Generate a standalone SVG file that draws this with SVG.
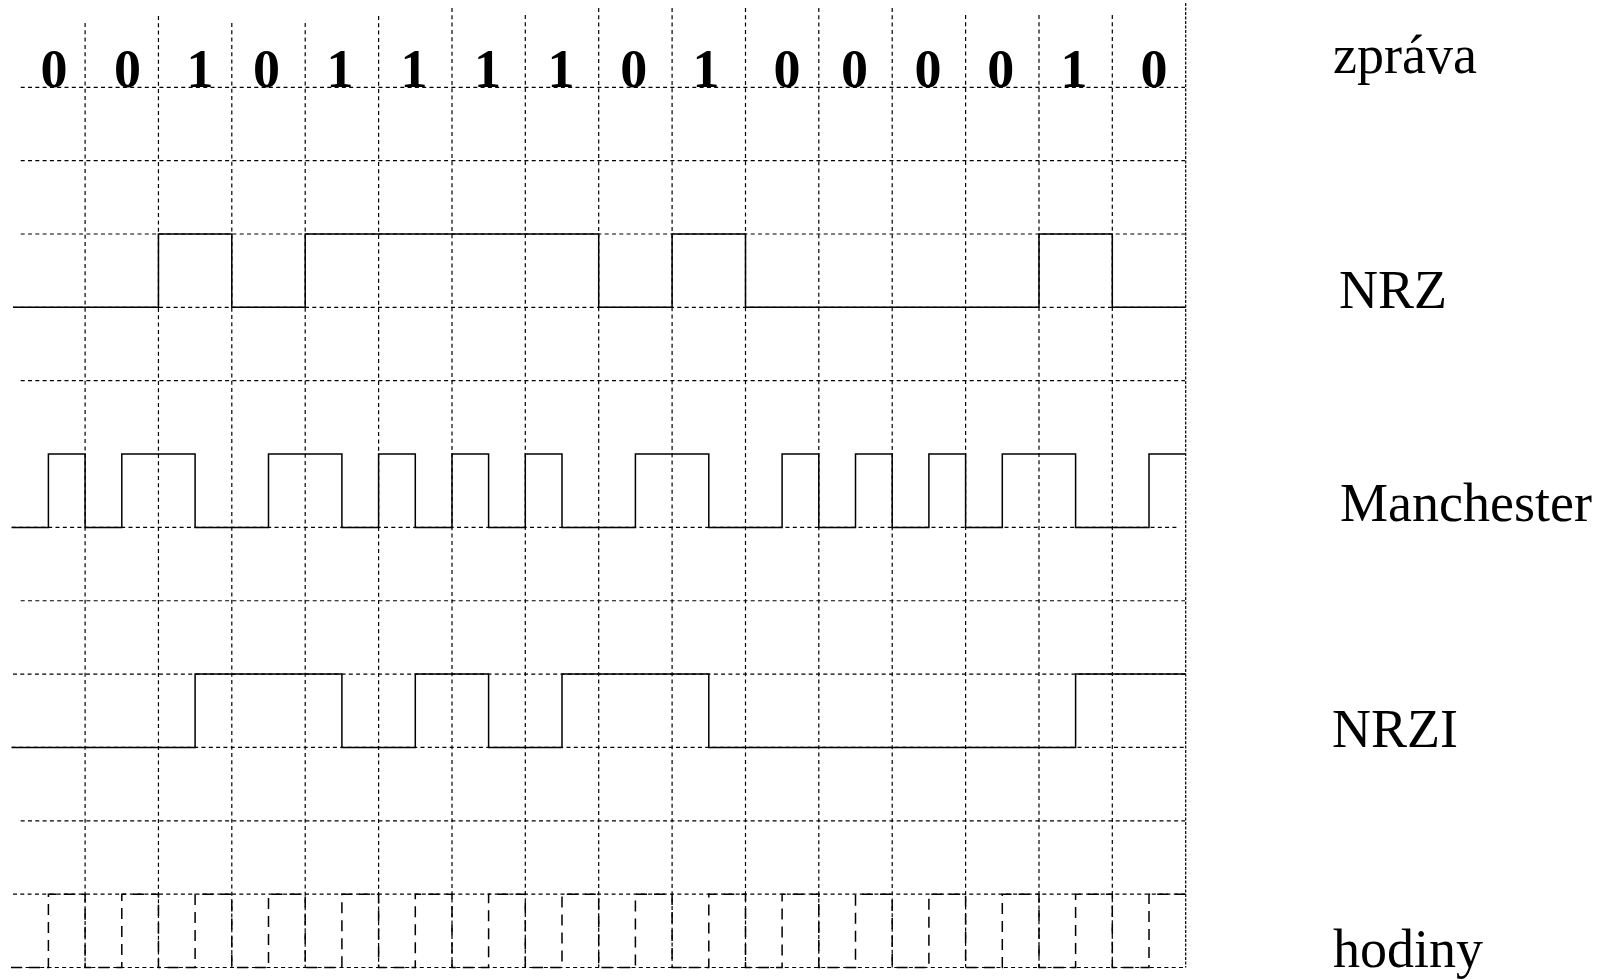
<svg xmlns="http://www.w3.org/2000/svg" width="1605" height="980" viewBox="0 0 1605 980">
<style>
.grid{stroke:#000;stroke-width:1.2;stroke-dasharray:4 3.3;fill:none}
.border{stroke:#000;stroke-width:1.2;stroke-dasharray:3 1.5;fill:none}
.sig{stroke:#000;stroke-width:1.5;fill:none}
.clk{stroke:#000;stroke-width:1.5;fill:none;stroke-dasharray:11 7}
.bit{font-family:"Liberation Serif","Times New Roman",serif;font-weight:bold;font-size:54px;text-anchor:middle;fill:#000}
.lbl{font-family:"Liberation Serif","Times New Roman",serif;font-size:54px;fill:#000}
</style>
<rect width="1605" height="980" fill="#fff"/>
<g id="grid">
<path class="grid" d="M20.7,87.3H1185 M20.7,160.65H1185 M20.7,234H1185 M13,307.35H1185 M20.7,380.7H1185 M11.7,527.4H1178 M20.7,600.75H1185 M13,674.1H1185 M11.7,747.45H1185 M20.7,820.8H1185 M13,894.15H1185 M11,967.5H1185"/>
<path class="grid" d="M85.1,23V967.5 M158.45,16V967.5 M231.8,23V967.5 M305.2,23V967.5 M378.6,16V967.5 M452,8V967.5 M525.3,15V967.5 M598.7,8V967.5 M672.1,8V967.5 M745.5,8V967.5 M818.8,8V967.5 M892.2,8V967.5 M965.6,15V967.5 M1039,15V967.5 M1112.3,15V967.5"/>
<path class="border" d="M1185.7,3V967.5"/>
</g>
<g id="bits">
<text class="bit" x="54" y="87">0</text>
<text class="bit" x="127.5" y="87">0</text>
<text class="bit" x="200" y="87">1</text>
<text class="bit" x="266.5" y="87">0</text>
<text class="bit" x="340" y="87">1</text>
<text class="bit" x="414" y="87">1</text>
<text class="bit" x="487.5" y="87">1</text>
<text class="bit" x="561" y="87">1</text>
<text class="bit" x="633.7" y="87">0</text>
<text class="bit" x="706" y="87">1</text>
<text class="bit" x="787" y="87">0</text>
<text class="bit" x="854.5" y="87">0</text>
<text class="bit" x="928" y="87">0</text>
<text class="bit" x="1000.8" y="87">0</text>
<text class="bit" x="1074" y="87">1</text>
<text class="bit" x="1154" y="87">0</text>
</g>
<g id="nrz">
<path class="sig" d="M13,307.35H158.45V234H231.8V307.35H305.2V234H598.7V307.35H672.1V234H745.5V307.35H1039V234H1112.3V307.35H1185.7"/>
</g>
<g id="manchester">
<path class="sig" d="M11.7,527.4H48.4V454H85.1V527.4H121.8V454H195.1V527.4H268.5V454H341.9V527.4H378.6V454H415.3V527.4H452V454H488.6V527.4H525.3V454H562V527.4H635.4V454H708.8V527.4H782.1V454H818.8V527.4H855.5V454H892.2V527.4H928.9V454H965.6V527.4H1002.3V454H1075.6V527.4H1149V454H1185.7"/>
</g>
<g id="nrzi">
<path class="sig" d="M11.7,747.45H195.1V674.1H341.9V747.45H415.3V674.1H488.6V747.45H562V674.1H708.8V747.45H1075.6V674.1H1185.7"/>
</g>
<g id="clock">
<path class="clk" d="M11,967.5H48.4V894.15H85.1V967.5H121.8V894.15H158.45V967.5H195.1V894.15H231.8V967.5H268.5V894.15H305.2V967.5H341.9V894.15H378.6V967.5H415.3V894.15H452V967.5H488.6V894.15H525.3V967.5H562V894.15H598.7V967.5H635.4V894.15H672.1V967.5H708.8V894.15H745.5V967.5H782.1V894.15H818.8V967.5H855.5V894.15H892.2V967.5H928.9V894.15H965.6V967.5H1002.3V894.15H1039V967.5H1075.6V894.15H1112.3V967.5H1149V894.15H1185.7"/>
</g>
<g id="labels">
<text class="lbl" x="1333" y="73">zpráva</text>
<text class="lbl" x="1339" y="308">NRZ</text>
<text class="lbl" x="1340" y="521">Manchester</text>
<text class="lbl" x="1332" y="747">NRZI</text>
<text class="lbl" x="1333" y="967">hodiny</text>
</g>
</svg>
